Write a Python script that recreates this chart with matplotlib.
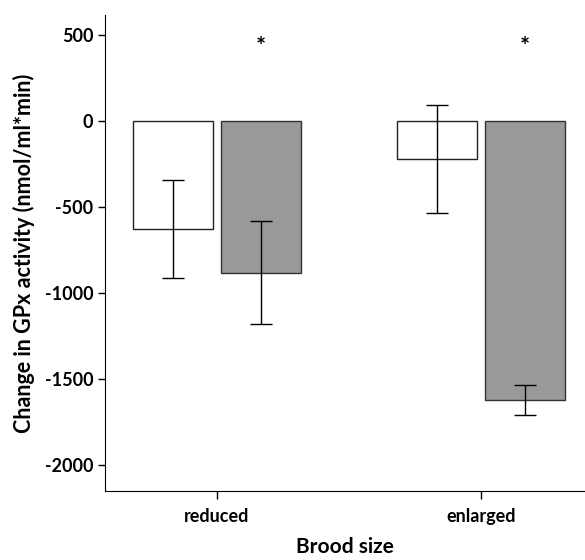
import numpy as np
import matplotlib
matplotlib.use('Agg')
import matplotlib.pyplot as plt

plt.rcParams['font.family'] = ['Lato', 'DejaVu Sans']
plt.rcParams['font.weight'] = 'bold'
plt.rcParams['axes.labelweight'] = 'bold'
plt.rcParams['axes.unicode_minus'] = False

groups = ['reduced', 'enlarged']
# two treatments per brood size group (white = first, grey = second)
white_vals = [-628, -221]
white_lo = [-913, -535]
white_hi = [-343, 93]
grey_vals = [-884, -1622]
grey_lo = [-1180, -1709]
grey_hi = [-581, -1535]
signif = ['*', '*']

x = np.arange(len(groups))
w = 0.305
off = 0.167

fig = plt.figure(figsize=(5.85, 5.6), dpi=100)
ax = fig.add_axes([105/585, 69/560, 480/585, 476/560])

wv = np.array(white_vals)
gv = np.array(grey_vals)
werr = [wv - np.array(white_lo), np.array(white_hi) - wv]
gerr = [gv - np.array(grey_lo), np.array(grey_hi) - gv]

ax.bar(x - off, wv, w, color='white', edgecolor='#222222', linewidth=1.0, zorder=2)
ax.bar(x + off, gv, w, color='#999999', edgecolor='#333333', linewidth=1.0, zorder=2)
ax.errorbar(x - off, wv, yerr=werr, fmt='none', ecolor='black', elinewidth=1.0,
            capsize=8, capthick=1.0, zorder=3)
ax.errorbar(x + off, gv, yerr=gerr, fmt='none', ecolor='black', elinewidth=1.0,
            capsize=8, capthick=1.0, zorder=3)

for i, s in enumerate(signif):
    ax.text(x[i] + off, 425, s, ha='center', va='center', fontsize=17, fontweight='bold')

ax.set_xlim(-0.424, 1.394)
ax.set_ylim(-2151, 616)
ax.set_yticks([500, 0, -500, -1000, -1500, -2000])
ax.set_xticks(x)
ax.set_xticklabels(groups)

ax.spines['top'].set_visible(False)
ax.spines['right'].set_visible(False)
ax.tick_params(axis='both', direction='out', length=5, width=1, labelsize=13)
ax.tick_params(axis='x', length=6, pad=6)

ax.set_ylabel('Change in GPx activity (nmol/ml*min)', fontsize=15.5, labelpad=7)
ax.set_xlabel('Brood size', fontsize=15, labelpad=9)

fig.savefig('out.png', dpi=100)
